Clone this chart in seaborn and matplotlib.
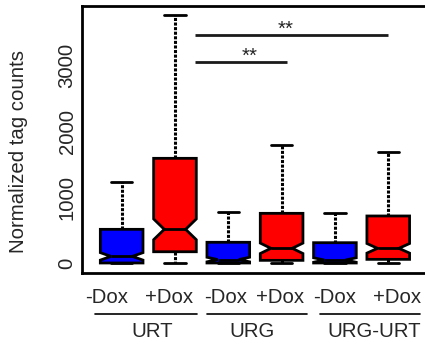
import numpy as np
import pandas as pd
import matplotlib
matplotlib.use("Agg")
import matplotlib.pyplot as plt
import matplotlib.transforms as mtransforms
from matplotlib.lines import Line2D
import seaborn as sns

# Five-number summaries of normalized tag counts per sample
samples = ["URT -Dox", "URT +Dox", "URG -Dox", "URG +Dox", "URG-URT -Dox", "URG-URT +Dox"]
conditions = ["-Dox", "+Dox", "-Dox", "+Dox", "-Dox", "+Dox"]
groups = ["URT", "URG", "URG-URT"]
whisker_low = [0, 0, 0, 0, 0, 0]
q1 = [5, 175, 5, 45, 5, 60]
median = [105, 514, 57, 227, 50, 227]
q3 = [514, 1588, 318, 756, 312, 716]
whisker_high = [1225, 3752, 781, 1790, 756, 1679]
n_genes = 200
yticks = [0, 1000, 2000, 3000]
ylabel = "Normalized tag counts"
significance = ["**", "**"]

# Expand each summary into per-gene values sharing the same quartiles
rows = []
for s, c, lo, a, m, b, hi in zip(samples, conditions, whisker_low, q1, median, q3, whisker_high):
    vals = np.repeat([lo, a, m, b, hi], n_genes // 5)
    rows.append(pd.DataFrame({"sample": s, "condition": c, "count": vals}))
df = pd.concat(rows, ignore_index=True)

sns.set_style("white")
plt.rcParams["font.family"] = ["Liberation Sans", "DejaVu Sans"]
FS = 14.7

fig = plt.figure(figsize=(4.25, 3.45), dpi=100)
ax = fig.add_axes([82.2 / 425, (345 - 273.3) / 345, 345.5 / 425, 267.3 / 345])

sns.boxplot(
    data=df, x="sample", y="count", hue="condition", order=samples,
    hue_order=["-Dox", "+Dox"], palette={"-Dox": "#0000ff", "+Dox": "#ff0000"},
    dodge=False, width=0.8, whis=(0, 100), notch=True, saturation=1,
    linecolor="black", linewidth=2, showfliers=False, legend=False,
    whiskerprops=dict(linestyle=(0, (1.0, 0.5)), linewidth=2.2),
    ax=ax,
)

ax.set_xlim(0.26 - 1, 6.74 - 1)
ax.set_ylim(-151, 3892)
ax.set_xlabel("")
ax.set_ylabel("")
ax.set_xticks(range(len(samples)))
ax.set_xticklabels([""] * len(samples))
ax.set_yticks(yticks)
ax.set_yticklabels([str(v) for v in yticks], rotation=90, va="center", fontsize=FS)
ax.tick_params(axis="both", direction="out", length=3.6, width=0.9, color="black")
ax.tick_params(axis="y", pad=0.5)
for sp in ax.spines.values():
    sp.set_visible(True)
    sp.set_linewidth(2)
    sp.set_color("black")

# Y axis title
fig.text(19 / 425, 1 - 151.7 / 345, ylabel, rotation=90, ha="center", va="center", fontsize=FS)

# Condition labels, group underlines and group names below the axis
bt = mtransforms.blended_transform_factory(ax.transData, fig.transFigure)
cond_x = [0.719, 1.887, 2.956, 3.978, 5.0, 6.172]
for x, c in zip(cond_x, conditions):
    ax.text(x - 1, 1 - 302.7 / 345, c, transform=bt, ha="center", va="baseline", fontsize=FS)

group_spans = [(0.499, 2.418), (2.594, 4.481), (4.719, 6.594)]
group_x = [1.578, 3.453, 5.732]
line_y = 1 - 314.3 / 345
for (x0, x1), gx, g in zip(group_spans, group_x, groups):
    ax.add_line(Line2D([x0 - 1, x1 - 1], [line_y, line_y], transform=bt, color="black",
                       lw=1.2, clip_on=False))
    ax.text(gx - 1, 1 - 336.7 / 345, g, transform=bt, ha="center", va="baseline", fontsize=FS)

# Significance bars
bars = [(2.375, 6.0, 3454, 4.081), (2.375, 4.106, 3041, 3.406)]
for (x0, x1, y, sx), label in zip(bars, significance):
    ax.plot([x0 - 1, x1 - 1], [y, y], color="#1a1a1a", lw=2, solid_capstyle="butt")
    ax.text(sx - 1, y, label, ha="center", va="baseline", fontsize=FS)

fig.savefig("out.png", dpi=100)
